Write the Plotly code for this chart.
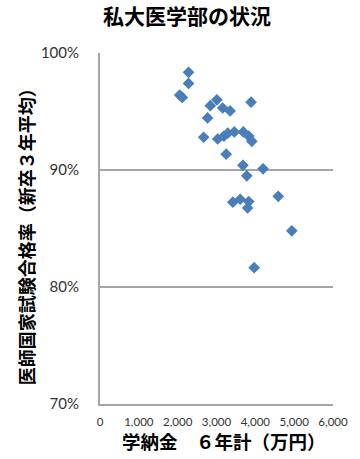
import plotly.graph_objects as go

# 私立大学医学部ごとの学納金（6年計, 万円）と医師国家試験合格率（新卒3年平均, %）
tuition_6yr = [2050, 2120, 2280, 2280, 2770, 2840, 3010, 3160, 3350, 3890,
               2670, 3030, 3190, 3290, 3460, 3690, 3830, 3910, 3250, 3680,
               4200, 3780, 4590, 3420, 3610, 3830, 3800, 4940, 3970]
pass_rate_pct = [96.4, 96.2, 98.35, 97.4, 94.45, 95.5, 96.0, 95.3, 95.05, 95.8,
                 92.8, 92.65, 92.9, 93.15, 93.25, 93.25, 92.9, 92.45, 91.35, 90.4,
                 90.1, 89.5, 87.75, 87.25, 87.5, 87.3, 86.75, 84.8, 81.65]

title_text = "私大医学部の状況"
x_title = "学納金　６年計（万円）"
y_title = "医師国家試験合格率（新卒３年平均）"

x_ticks = [0, 1000, 2000, 3000, 4000, 5000, 6000]
y_ticks = [0.7, 0.8, 0.9, 1.0]

grid = "#a6a6a6"
cjk = "Noto Sans CJK JP"
tick_font = dict(family="Lato, DejaVu Sans, sans-serif", color="#333333")

fig = go.Figure(
    go.Scatter(
        x=tuition_6yr,
        y=[v / 100 for v in pass_rate_pct],
        mode="markers",
        marker=dict(symbol="diamond", size=9, color="#4a7ebb",
                    line=dict(width=0)),
        hoverinfo="x+y",
    )
)

fig.update_xaxes(
    range=[0, 6000], tickvals=x_ticks, tickformat=",",
    showgrid=False, zeroline=False,
    showline=True, linecolor=grid, linewidth=2,
    ticks="", ticklabelstandoff=6,
    tickfont=dict(size=11.5, **tick_font),
)
fig.update_yaxes(
    range=[0.7, 1.0], tickvals=y_ticks, tickformat=".0%",
    showgrid=True, gridcolor=grid, gridwidth=2, zeroline=False,
    showline=True, linecolor=grid, linewidth=2,
    ticks="", ticklabelstandoff=16,
    tickfont=dict(size=15, **tick_font),
)

fig.update_layout(
    width=360, height=459,
    margin=dict(l=100, r=17, t=53, b=55),
    paper_bgcolor="white", plot_bgcolor="white",
    showlegend=False,
    title=dict(text=title_text, x=187 / 360, y=1 - 17 / 459,
               xanchor="center", yanchor="middle", xref="container",
               yref="container",
               font=dict(family=cjk, size=21, color="#000000", weight="bold")),
    annotations=[
        dict(text=x_title, xref="paper", yref="paper",
             x=(229 - 100) / 243, y=(404 - 441) / 351,
             xanchor="center", yanchor="middle", showarrow=False,
             font=dict(family=cjk, size=18.5, color="#000000", weight="bold")),
        dict(text=y_title, xref="paper", yref="paper",
             x=(23 - 100) / 243, y=0.49, textangle=-90,
             xanchor="center", yanchor="middle", showarrow=False,
             font=dict(family=cjk, size=18, color="#000000", weight="bold")),
    ],
)

fig.write_html("out.html")
